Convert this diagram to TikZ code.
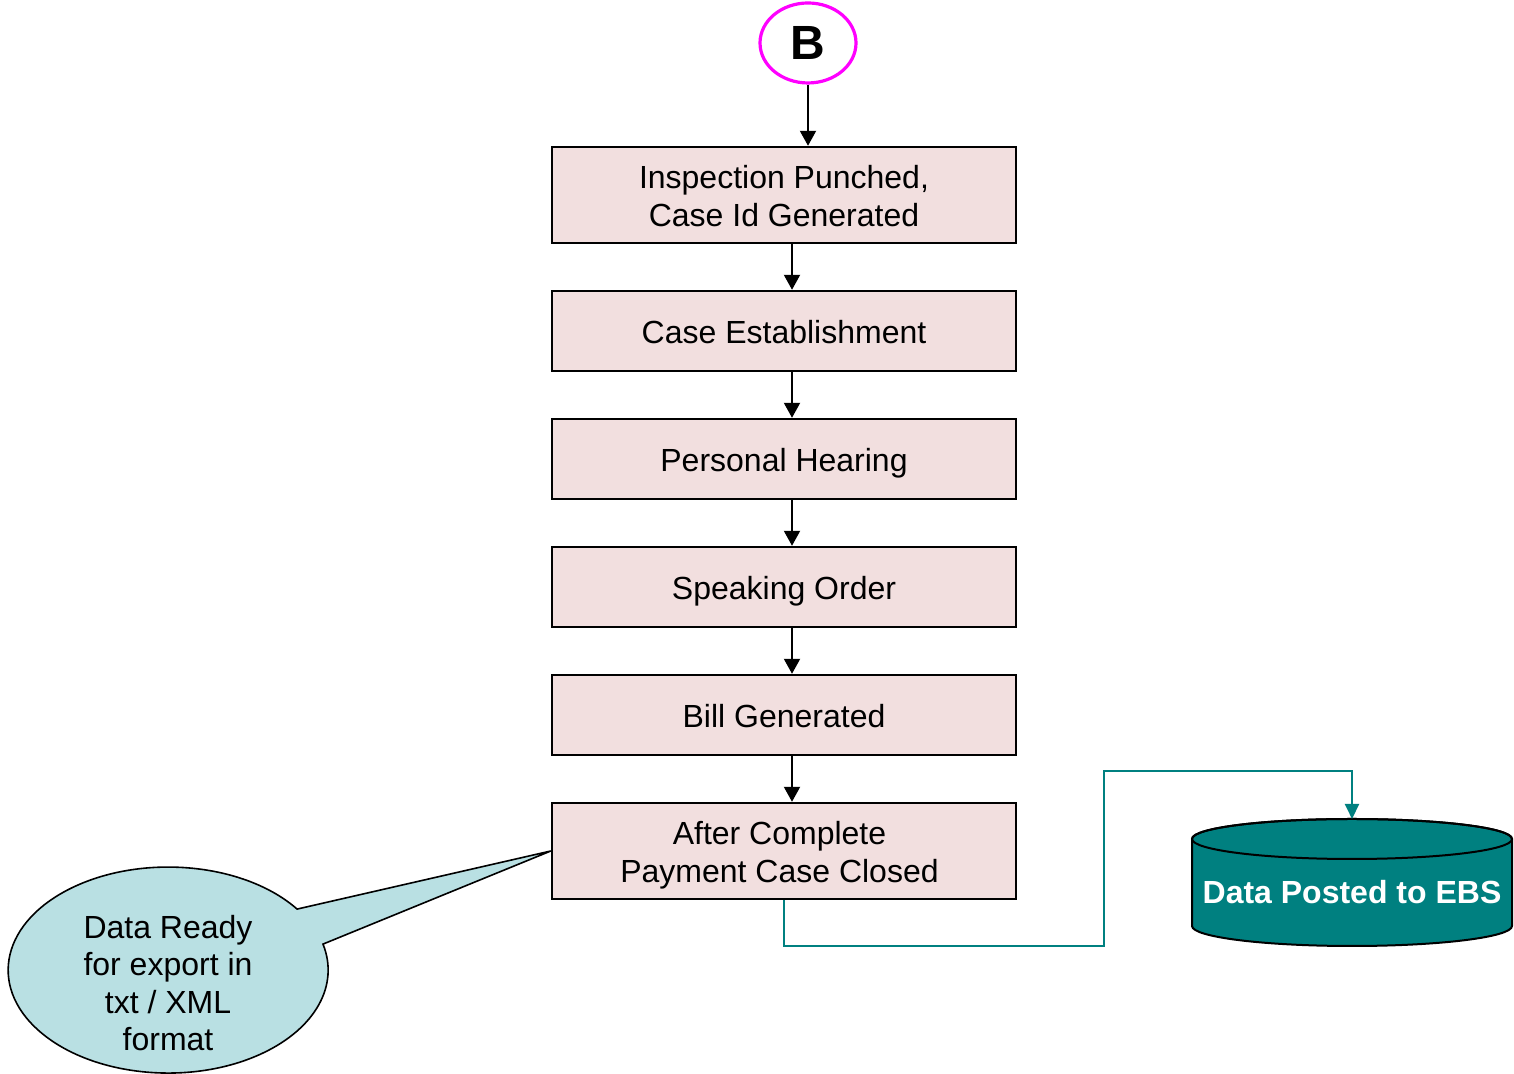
\documentclass[tikz,border=0pt]{standalone}
\usepackage{fontspec}
\setmainfont{Liberation Sans}
\usetikzlibrary{shapes.geometric,arrows.meta}
\definecolor{boxpink}{HTML}{F2DFDF}
\definecolor{calloutblue}{HTML}{B9E0E3}
\definecolor{tealc}{HTML}{008080}
\definecolor{magentac}{HTML}{FF00FF}
\newcommand{\boxtext}[2][0pt]{\raisebox{-2.5pt}[\height][\depth]{\begin{tabular}{@{}c@{}}#2\end{tabular}}\kern#1}
\tikzset{
  procbox/.style={draw=black, line width=1.2pt, fill=boxpink, minimum width=232pt, inner sep=0pt, align=center, font=\fontsize{16}{19}\selectfont},
  flowarrow/.style={line width=1pt, -{Triangle[width=8pt,length=7.5pt]}},
  tealarrow/.style={draw=tealc, line width=1pt, -{Triangle[width=7pt,length=7.5pt]}, color=tealc},
  startcircle/.style={ellipse, draw=magentac, line width=1.6pt, minimum width=48pt, minimum height=40pt, inner sep=0pt, font=\fontsize{24}{28}\selectfont\bfseries},
}
\begin{document}
\begin{tikzpicture}[x=0.5pt,y=0.5pt]
\useasboundingbox (0,0) rectangle (1514,1074);
\fill[white] (0,0) rectangle (1514,1074);

\node[startcircle] (B) at (808,1031) {B};

\node[procbox, minimum height=48pt] (b1) at (784,879) {\boxtext{Inspection Punched,\\ Case Id Generated}};
\node[procbox, minimum height=40pt] (b2) at (784,743) {\boxtext{Case Establishment}};
\node[procbox, minimum height=40pt] (b3) at (784,615) {\boxtext{Personal Hearing}};
\node[procbox, minimum height=40pt] (b4) at (784,487) {\boxtext{Speaking Order}};
\node[procbox, minimum height=40pt] (b5) at (784,359) {\boxtext{Bill Generated}};
\node[procbox, minimum height=48pt] (b6) at (784,223) {\boxtext[4.5pt]{After Complete\\ Payment Case Closed}};

\draw[flowarrow] (B.south) -- ([xshift=12pt]b1.north);
\draw[flowarrow] ([xshift=4pt]b1.south) -- ([xshift=4pt]b2.north);
\draw[flowarrow] ([xshift=4pt]b2.south) -- ([xshift=4pt]b3.north);
\draw[flowarrow] ([xshift=4pt]b3.south) -- ([xshift=4pt]b4.north);
\draw[flowarrow] ([xshift=4pt]b4.south) -- ([xshift=4pt]b5.north);
\draw[flowarrow] ([xshift=4pt]b5.south) -- ([xshift=4pt]b6.north);

% cylinder (database)
\filldraw[fill=tealc, draw=black, line width=1pt]
  (1192,235) -- (1192,148) arc (180:360:80pt and 10pt) -- (1512,235) arc (0:180:80pt and 10pt) -- cycle;
\draw[black, line width=1pt] (1352,235) ellipse (80pt and 10pt);
\node[text=white, font=\fontsize{16}{19}\selectfont\bfseries, inner sep=0pt] (ebs) at (1352,182) {Data Posted to EBS};
\coordinate (ebstop) at (1352,255);

\draw[tealarrow] (b6.south) |- (1104,128) |- (1352,303) -- (ebstop);

% callout
\filldraw[fill=calloutblue, draw=black, line width=0.8pt]
  (b6.west) -- (297.1,164.9) arc (36.3:374.6:80pt and 51.5pt) -- cycle;
\node[align=center, font=\fontsize{16}{18.8}\selectfont, inner sep=0pt] (note) at (168,91) {Data Ready\\ for export in\\ txt / XML\\ format};
\end{tikzpicture}
\end{document}
